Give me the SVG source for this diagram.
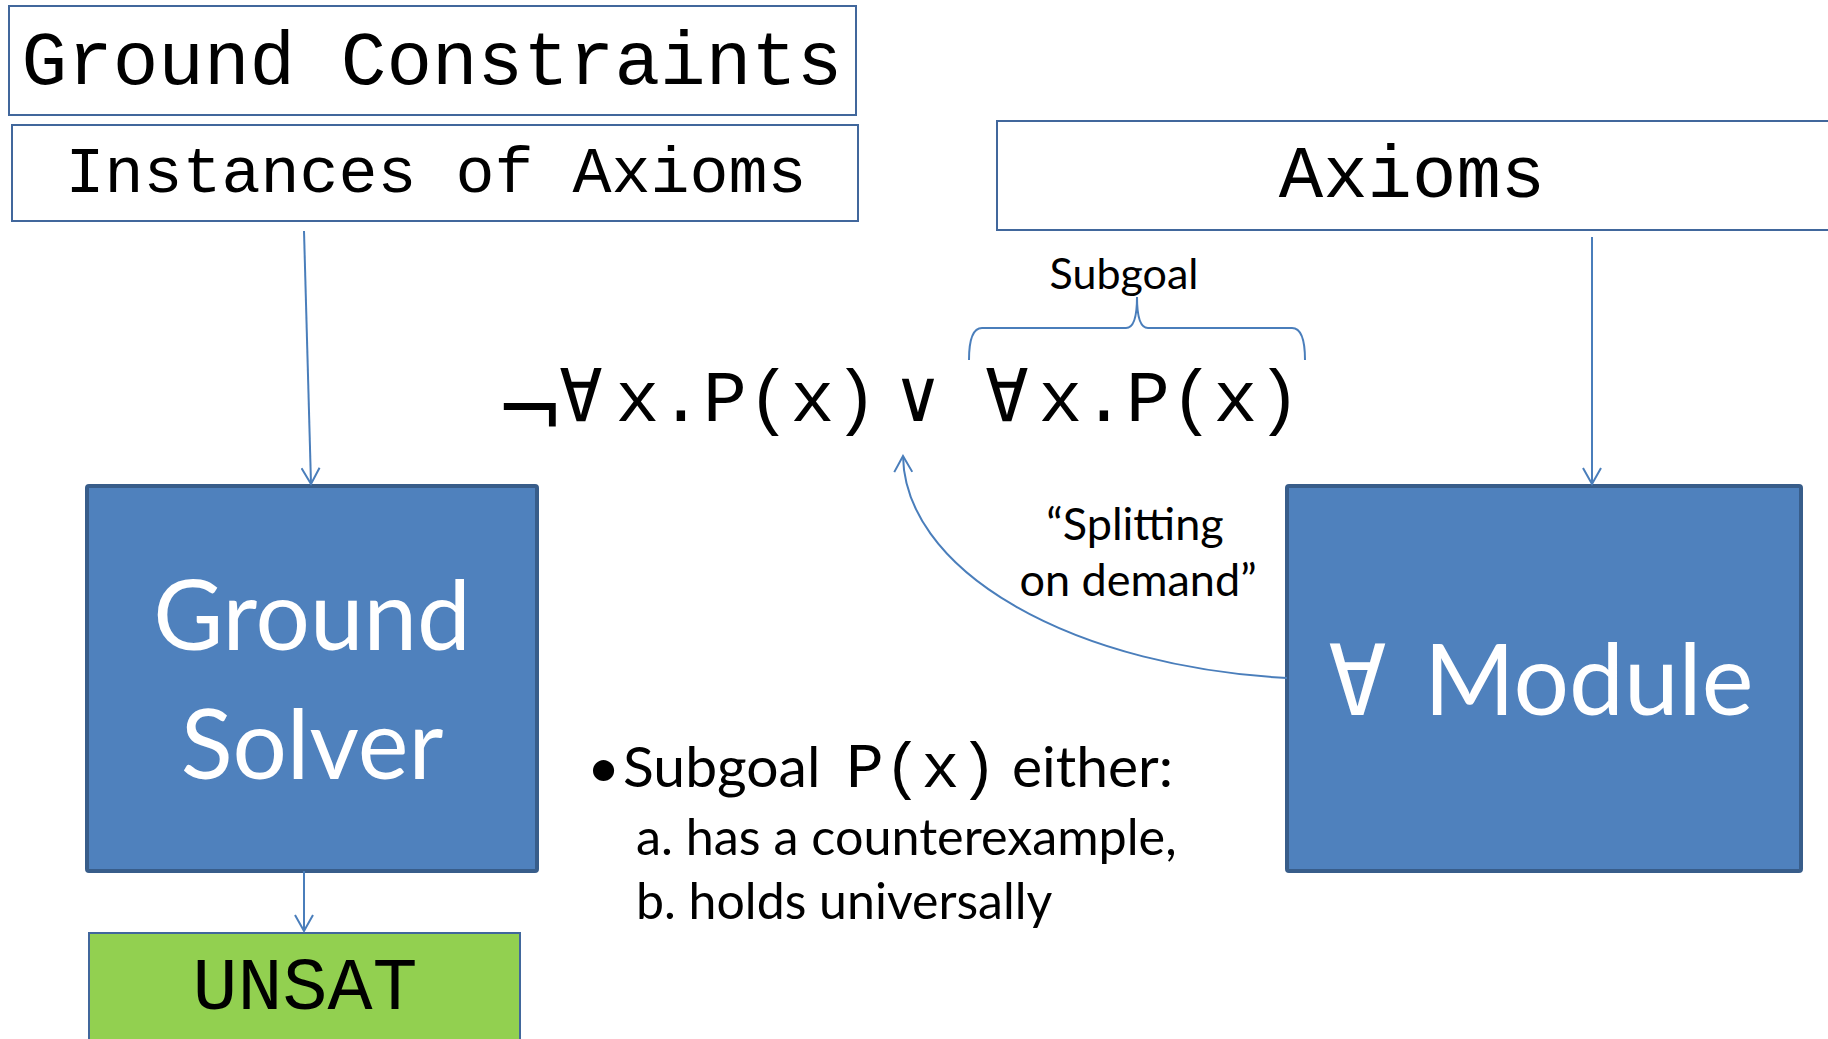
<svg xmlns="http://www.w3.org/2000/svg" width="1828" height="1039" viewBox="0 0 1828 1039">
<defs>
<style>
.box{fill:#ffffff;stroke:#41679c;stroke-width:2}
.solid{fill:#4f81bd;stroke:#385d8a;stroke-width:4}
.green{fill:#92d050;stroke:#41679c;stroke-width:2}
.mono{font-family:"Liberation Mono","Courier New","DejaVu Sans Mono",monospace;fill:#000}
.sym{font-family:"DejaVu Sans Mono","DejaVu Sans",monospace}
.dv{font-family:"DejaVu Sans",sans-serif}
.sans{font-family:Lato,"Open Sans",sans-serif;fill:#000}
.white{fill:#ffffff}
.conn{fill:none;stroke:#4a7ebb;stroke-width:2}
</style>
<marker id="arr" viewBox="0 0 20 20" refX="18" refY="10" markerWidth="20" markerHeight="20" markerUnits="userSpaceOnUse" orient="auto">
<path d="M2,1 L18,10 L2,19" fill="none" stroke="#4a7ebb" stroke-width="2"/>
</marker>
</defs>
<rect x="0" y="0" width="1828" height="1039" fill="#ffffff"/>

<g id="ground-constraints">
<rect class="box" x="9" y="6" width="847" height="109"/>
<text class="mono" x="432" y="84" font-size="76" text-anchor="middle">Ground Constraints</text>
</g>

<g id="instances-of-axioms">
<rect class="box" x="12" y="125" width="846" height="96"/>
<text class="mono" x="436" y="192" font-size="65" text-anchor="middle">Instances of Axioms</text>
</g>

<g id="axioms">
<rect class="box" x="997" y="121" width="850" height="109"/>
<text class="mono" x="1412" y="197" font-size="74" text-anchor="middle">Axioms</text>
</g>

<g id="ground-solver">
<rect class="solid" x="87" y="486" width="450" height="385" rx="2"/>
<text class="sans white" x="312" y="650" font-size="96" text-anchor="middle">Ground</text>
<text class="sans white" x="312" y="779" font-size="96" text-anchor="middle">Solver</text>
</g>

<g id="forall-module">
<rect class="solid" x="1287" y="486" width="514" height="385" rx="2"/>
<text class="sans white" y="715" font-size="98"><tspan class="sym" font-weight="200" x="1328">∀</tspan> <tspan x="1424">Module</tspan></text>
</g>

<g id="unsat">
<rect class="green" x="89" y="933" width="431" height="120"/>
<text class="mono" x="305" y="1009" font-size="75" text-anchor="middle">UNSAT</text>
</g>

<g id="formula">
<text class="mono" font-size="73"><tspan class="dv" font-size="83" x="495" y="438">¬</tspan><tspan y="421" x="559 615.5 659 703 747 790.5 834 878 896 940 985 1038.5 1082 1126 1170 1213.5 1257">∀x.P(x) ∨ ∀x.P(x)</tspan></text>
</g>

<g id="subgoal-brace">
<path class="conn" d="M969,360 Q969,328 982,328 L1126,328 Q1137,328 1137,297 Q1137,328 1148,328 L1292,328 Q1305,328 1305,360"/>
<text class="sans" x="1124" y="289" font-size="43" text-anchor="middle">Subgoal</text>
</g>

<g id="splitting-label">
<text class="sans" x="1135" y="540" font-size="45" text-anchor="middle">“Splitting</text>
<text class="sans" x="1138" y="596" font-size="45" text-anchor="middle">on demand”</text>
</g>

<g id="bullets">
<text class="sans" y="787" font-size="57"><tspan x="587">•</tspan> <tspan x="623">Subgoal</tspan> <tspan class="mono" font-size="63" x="846">P(x)</tspan> <tspan x="1012">either:</tspan></text>
<text class="sans" x="636" y="855" font-size="50.3">a. has a counterexample,</text>
<text class="sans" x="636" y="919" font-size="50">b. holds universally</text>
</g>

<g id="connectors">
<path class="conn" d="M304,231 L311,484" marker-end="url(#arr)"/>
<path class="conn" d="M304,871 L304,931" marker-end="url(#arr)"/>
<path class="conn" d="M1592,237 L1592,484" marker-end="url(#arr)"/>
<path class="conn" d="M1287,678 A427,225 0 0 1 903,456" marker-end="url(#arr)"/>
</g>
</svg>
